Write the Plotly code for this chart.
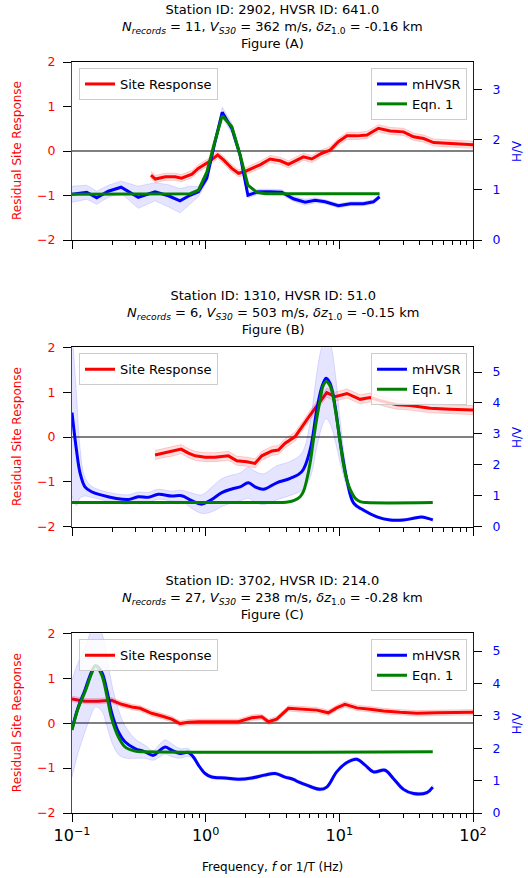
import numpy as np
import plotly.graph_objects as go

# ---------------- Panel A: Station 2902 ----------------
a_sr_f = [0.39, 0.42, 0.50, 0.59, 0.66, 0.79, 0.88, 1.05, 1.23, 1.36, 1.57, 1.76, 1.97, 2.21, 2.55,
          3.03, 3.61, 4.16, 5.38, 6.22, 7.40, 8.53, 9.84, 11.4, 13.5, 16.1, 19.6, 24.0, 30.2, 35.9,
          42.7, 50.7, 67.5, 89.9, 100]
a_sr = [-0.54, -0.63, -0.58, -0.58, -0.61, -0.52, -0.39, -0.25, -0.09, -0.20, -0.39, -0.50, -0.46, -0.39, -0.31,
        -0.18, -0.22, -0.30, -0.13, -0.18, -0.05, 0.02, 0.21, 0.34, 0.34, 0.36, 0.51, 0.45, 0.43, 0.32,
        0.28, 0.19, 0.17, 0.15, 0.14]
a_sr_band = 0.08

a_hv_f = [0.1, 0.129, 0.153, 0.187, 0.233, 0.313, 0.418, 0.526, 0.643, 0.764, 0.883, 1.02, 1.16, 1.33, 1.57,
          1.81, 2.07, 2.48, 3.03, 3.71, 4.53, 5.55, 6.59, 7.83, 9.84, 12.1, 15.1, 18.0, 20.0]
a_hv = [0.91, 0.95, 0.84, 0.97, 1.05, 0.85, 0.96, 0.88, 0.78, 0.89, 0.96, 1.23, 1.89, 2.54, 2.22,
        1.69, 0.89, 0.96, 0.96, 0.95, 0.82, 0.75, 0.79, 0.76, 0.68, 0.72, 0.72, 0.76, 0.86]
a_hv_d = [0.16, 0.14, 0.13, 0.12, 0.12, 0.22, 0.18, 0.22, 0.24, 0.18, 0.10, 0.07, 0.08, 0.10, 0.10,
          0.08, 0.05, 0.05, 0.05, 0.05, 0.05, 0.06, 0.05, 0.04, 0.04, 0.04, 0.04, 0.04, 0.04]

a_eq_f = [0.1, 0.764, 0.883, 1.02, 1.16, 1.33, 1.57, 1.81, 2.07, 2.41, 2.8, 20.0]
a_eq = [0.91, 0.92, 0.99, 1.35, 1.92, 2.47, 2.25, 1.69, 1.09, 0.95, 0.92, 0.92]

# ---------------- Panel B: Station 1310 ----------------
b_sr_f = [0.418, 0.497, 0.557, 0.655, 0.743, 0.834, 0.99, 1.17, 1.48, 1.71, 2.03, 2.34, 2.63, 3.13, 3.50,
          3.93, 4.67, 5.09, 5.38, 6.04, 6.98, 8.05, 9.31, 11.4, 14.3, 17.0, 20.2, 22.7, 26.9, 33.9,
          47.9, 67.5, 100]
b_sr = [-0.40, -0.35, -0.33, -0.27, -0.36, -0.42, -0.45, -0.45, -0.42, -0.53, -0.55, -0.59, -0.42, -0.31, -0.29,
        -0.14, 0.01, 0.16, 0.27, 0.49, 0.75, 0.99, 0.90, 0.97, 0.84, 0.88, 0.81, 0.77, 0.72, 0.70,
        0.64, 0.62, 0.60]
b_sr_band = 0.10

b_hv_f = [0.1, 0.108, 0.115, 0.125, 0.140, 0.167, 0.210, 0.264, 0.313, 0.372, 0.443, 0.557, 0.662, 0.787, 0.935,
          1.11, 1.32, 1.57, 1.81, 2.09, 2.34, 2.70, 3.40, 4.29, 5.24, 6.04, 6.78, 7.40, 7.96, 8.53,
          9.31, 10.1, 11.4, 12.8, 15.1, 19.1, 24.0, 30.2, 35.9, 41.0, 46.0, 50.0]
b_hv = [3.69, 2.48, 1.73, 1.29, 1.13, 1.02, 0.92, 0.88, 0.97, 0.95, 1.05, 0.99, 1.00, 0.84, 0.73,
        0.88, 1.10, 1.22, 1.29, 1.42, 1.29, 1.21, 1.42, 1.56, 1.78, 2.48, 3.77, 4.52, 4.80, 4.63,
        3.88, 2.80, 1.51, 0.76, 0.54, 0.32, 0.22, 0.22, 0.27, 0.31, 0.27, 0.22]
b_hv_d = [2.70, 1.80, 0.80, 0.30, 0.18, 0.15, 0.15, 0.15, 0.15, 0.16, 0.16, 0.16, 0.18, 0.25, 0.30,
          0.40, 0.45, 0.45, 0.45, 0.50, 0.50, 0.50, 0.55, 0.55, 0.60, 0.90, 1.20, 1.30, 1.30, 1.30,
          1.10, 0.70, 0.25, 0.08, 0.05, 0.04, 0.04, 0.04, 0.04, 0.04, 0.04, 0.04]

b_eq_f = [0.1, 3.0, 4.0, 4.6, 5.09, 5.4, 5.70, 6.04, 6.40, 6.78, 7.18, 7.56, 7.96, 8.35, 8.77,
          9.2, 9.68, 10.2, 10.7, 11.4, 12.1, 13.1, 14.3, 16.0, 50.0]
b_eq = [0.78, 0.78, 0.79, 0.85, 0.97, 1.15, 1.51, 2.05, 2.80, 3.50, 4.10, 4.55, 4.69, 4.62, 4.42,
        3.95, 3.34, 2.65, 2.05, 1.50, 1.19, 0.93, 0.81, 0.78, 0.78]

# ---------------- Panel C: Station 3702 ----------------
c_sr_f = [0.1, 0.125, 0.157, 0.198, 0.235, 0.280, 0.323, 0.394, 0.469, 0.557, 0.643, 0.743, 0.883, 1.11, 1.40,
          1.76, 2.21, 2.63, 2.95, 3.40, 4.16, 5.09, 6.78, 8.28, 9.55, 11.0, 13.5, 17.0, 21.4, 28.5,
          38.0, 53.7, 75.7, 100]
c_sr = [0.54, 0.49, 0.49, 0.51, 0.42, 0.36, 0.33, 0.22, 0.16, 0.09, -0.01, 0.02, 0.03, 0.03, 0.03,
        0.03, 0.12, 0.14, 0.03, 0.09, 0.33, 0.31, 0.29, 0.23, 0.34, 0.42, 0.34, 0.31, 0.27, 0.24,
        0.22, 0.23, 0.24, 0.24]
c_sr_band = 0.06

c_hv_f = [0.1, 0.111, 0.125, 0.140, 0.150, 0.167, 0.182, 0.198, 0.222, 0.249, 0.296, 0.352, 0.406, 0.456, 0.497,
          0.557, 0.643, 0.743, 0.809, 0.883, 0.99, 1.11, 1.40, 1.76, 2.21, 2.75, 3.31, 3.93, 4.53, 4.94,
          5.70, 7.18, 8.05, 9.55, 11.4, 13.5, 15.6, 18.0, 22.0, 25.4, 30.2, 35.9, 45.2, 50.0]
c_hv = [2.60, 3.25, 3.80, 4.36, 4.55, 4.35, 3.80, 3.10, 2.51, 2.20, 1.99, 1.89, 1.78, 1.94, 2.04,
        1.94, 1.84, 1.87, 1.73, 1.48, 1.22, 1.11, 1.08, 1.04, 1.08, 1.17, 1.22, 1.11, 1.04, 0.96,
        0.86, 0.73, 0.80, 1.27, 1.56, 1.66, 1.48, 1.27, 1.32, 1.06, 0.73, 0.60, 0.63, 0.80]
c_hv_d = [1.50, 1.40, 1.30, 1.30, 1.27, 1.20, 1.10, 0.90, 0.70, 0.50, 0.30, 0.20, 0.15, 0.20, 0.22,
          0.20, 0.15, 0.12, 0.08, 0.06, 0.05, 0.05, 0.05, 0.05, 0.05, 0.05, 0.05, 0.05, 0.05, 0.05,
          0.05, 0.05, 0.05, 0.05, 0.05, 0.05, 0.05, 0.05, 0.05, 0.05, 0.05, 0.05, 0.05, 0.05]

c_eq_f = [0.1, 0.111, 0.125, 0.140, 0.150, 0.167, 0.182, 0.198, 0.222, 0.249, 0.296, 0.35, 50.0]
c_eq = [2.56, 3.23, 3.74, 4.30, 4.55, 4.26, 3.64, 2.92, 2.35, 2.04, 1.91, 1.89, 1.89]

# ---------------- Text ----------------
titles = [
    ("Station ID: 2902, HVSR ID: 641.0", "11", "362", "-0.16", "Figure (A)"),
    ("Station ID: 1310, HVSR ID: 51.0", "6", "503", "-0.15", "Figure (B)"),
    ("Station ID: 3702, HVSR ID: 214.0", "27", "238", "-0.28", "Figure (C)"),
]
hv_max = [3.54, 5.8, 5.55]
hv_ticks = [[0, 1, 2, 3], [0, 1, 2, 3, 4, 5], [0, 1, 2, 3, 4, 5]]
sr_ticks = [-2, -1, 0, 1, 2]
sr_tick_text = ["−2", "−1", "0", "1", "2"]
x_major = [0.1, 1, 10, 100]
x_major_text = ["10<sup>−1</sup>", "10<sup>0</sup>", "10<sup>1</sup>", "10<sup>2</sup>"]

# ---------------- Layout geometry (pixels) ----------------
W, H = 528, 878
L, R, T, B = 72, 55, 62, 65
PW, PH = W - L - R, H - T - B
panel_px = [(62, 240), (347.3, 526.7), (633.3, 813)]   # top, bottom of each axes box
title_px = [26.5, 312.3, 597.3]                           # centre of the 3-line title


def py(p):
    return (H - B - p) / PH


def px(q):
    return (q - L) / PW


FONT = "DejaVu Sans"
RED, BLUE, GREEN = "#ff0000", "#0000ff", "#008000"

minor_vals = [m * 10.0 ** e for e in (-1, 0, 1) for m in range(2, 10)]

panels = [
    (a_sr_f, a_sr, a_sr_band, a_hv_f, a_hv, a_hv_d, a_eq_f, a_eq, "linear"),
    (b_sr_f, b_sr, b_sr_band, b_hv_f, b_hv, b_hv_d, b_eq_f, b_eq, "spline"),
    (c_sr_f, c_sr, c_sr_band, c_hv_f, c_hv, c_hv_d, c_eq_f, c_eq, "spline"),
]

fig = go.Figure()
layout = dict(
    width=W, height=H,
    margin=dict(l=L, r=R, t=T, b=B),
    paper_bgcolor="white", plot_bgcolor="white",
    font=dict(family=FONT, size=12, color="black"),
    showlegend=True,
    annotations=[],
)

for i, (sf, sv, sb, hf, hv, hd, ef, ev, shape) in enumerate(panels):
    xa = "x" if i == 0 else f"x{i + 1}"
    yl = "y" if i == 0 else f"y{2 * i + 1}"
    yr = f"y{2 * i + 2}"
    legL = "legend" if i == 0 else f"legend{2 * i + 1}"
    legR = f"legend{2 * i + 2}"

    sf_a, sv_a = np.array(sf), np.array(sv)
    hf_a, hv_a, hd_a = np.array(hf), np.array(hv), np.array(hd)

    # site response band + line (left axis)
    fig.add_trace(go.Scatter(
        x=np.concatenate([sf_a, sf_a[::-1]]),
        y=np.concatenate([sv_a + sb, (sv_a - sb)[::-1]]),
        fill="toself", fillcolor="rgba(255,0,0,0.13)",
        line=dict(color="rgba(255,0,0,0.18)", width=1),
        mode="lines", showlegend=False, hoverinfo="skip", xaxis=xa, yaxis=yl))
    fig.add_trace(go.Scatter(
        x=sf, y=sv, mode="lines", name="Site Response",
        line=dict(color=RED, width=3), xaxis=xa, yaxis=yl, legend=legL))

    # mHVSR band + line, Eqn.1 (right axis)
    up = hv_a + hd_a
    lo = np.clip(hv_a - hd_a, 0.0, None)
    fig.add_trace(go.Scatter(
        x=np.concatenate([hf_a, hf_a[::-1]]),
        y=np.concatenate([up, lo[::-1]]),
        fill="toself", fillcolor="rgba(0,0,255,0.10)",
        line=dict(color="rgba(0,0,255,0.12)", width=1, shape=shape),
        mode="lines", showlegend=False, hoverinfo="skip", xaxis=xa, yaxis=yr))
    fig.add_trace(go.Scatter(
        x=hf, y=hv, mode="lines", name="mHVSR",
        line=dict(color=BLUE, width=3, shape=shape), xaxis=xa, yaxis=yr, legend=legR))
    fig.add_trace(go.Scatter(
        x=ef, y=ev, mode="lines", name="Eqn. 1",
        line=dict(color=GREEN, width=3, shape=shape), xaxis=xa, yaxis=yr, legend=legR))

    top, bot = panel_px[i]
    dom = [max(0.0, py(bot)), min(1.0, py(top))]
    last = i == 2

    layout["xaxis" if i == 0 else f"xaxis{i + 1}"] = dict(
        type="log", range=[-1, 2], domain=[0, 1], anchor=yl,
        showline=True, linecolor="black", linewidth=1.2, mirror=True,
        ticks="outside", ticklen=8, tickwidth=1, tickcolor="black",
        tickmode="array", tickvals=x_major, ticktext=x_major_text,
        showticklabels=last, tickfont=dict(size=16, color="black"),
        showgrid=False, zeroline=False,
        minor=dict(tickmode="array", tickvals=minor_vals, ticks="outside",
                   ticklen=4, tickwidth=1, tickcolor="black", showgrid=False),
    )
    layout["yaxis" if i == 0 else f"yaxis{2 * i + 1}"] = dict(
        domain=dom, anchor=xa, range=[-2, 2],
        showline=True, linecolor=RED, linewidth=1.2,
        ticks="outside", ticklen=8, tickwidth=1, tickcolor="black",
        tickmode="array", tickvals=sr_ticks, ticktext=sr_tick_text,
        tickfont=dict(color=RED, size=12.5), ticklabelstandoff=5,
        showgrid=False, zeroline=True, zerolinecolor="#808080", zerolinewidth=1.8,
    )
    layout[f"yaxis{2 * i + 2}"] = dict(
        overlaying=yl, side="right", anchor=xa, range=[0, hv_max[i]],
        showline=True, linecolor=BLUE, linewidth=1.2,
        ticks="outside", ticklen=8, tickwidth=1, tickcolor="black",
        tickmode="array", tickvals=hv_ticks[i],
        tickfont=dict(color=BLUE, size=12.5), ticklabelstandoff=8,
        showgrid=False, zeroline=False,
    )

    legend_top = py(top + 6)
    layout[legL] = dict(
        x=px(79), y=legend_top, xanchor="left", yanchor="top",
        bgcolor="rgba(255,255,255,0.8)", bordercolor="#cccccc", borderwidth=1,
        font=dict(family=FONT, size=13, color="black"), itemwidth=30, tracegroupgap=0)
    layout[legR] = dict(
        x=px(467), y=legend_top, xanchor="right", yanchor="top",
        bgcolor="rgba(255,255,255,0.8)", bordercolor="#cccccc", borderwidth=1,
        font=dict(family=FONT, size=13, color="black"), itemwidth=30, tracegroupgap=0)

    st, n, vs, dz, figlab = titles[i]
    title_text = (f"{st}<br><i>N<sub>records</sub></i> = {n}, <i>V<sub>S30</sub></i> = {vs} m/s, "
                  f"<i>δz</i><sub>1.0</sub> = {dz} km<br>{figlab}")
    layout["annotations"].append(dict(
        text=title_text, x=0.5, y=py(title_px[i]), xref="paper", yref="paper",
        xanchor="center", yanchor="middle", showarrow=False,
        font=dict(family=FONT, size=13, color="black")))
    mid = (top + bot) / 2
    layout["annotations"].append(dict(
        text="Residual Site Response", x=px(17), y=py(mid), xref="paper", yref="paper",
        xanchor="center", yanchor="middle", textangle=-90, showarrow=False,
        font=dict(family=FONT, size=12, color=RED)))
    layout["annotations"].append(dict(
        text="H/V", x=px(517), y=py(mid), xref="paper", yref="paper",
        xanchor="center", yanchor="middle", textangle=-90, showarrow=False,
        font=dict(family=FONT, size=12, color=BLUE)))

layout["annotations"].append(dict(
    text="Frequency, <i>f</i> or 1/T (Hz)", x=0.5, y=py(866.5), xref="paper", yref="paper",
    xanchor="center", yanchor="middle", showarrow=False,
    font=dict(family=FONT, size=12, color="black")))

fig.update_layout(**layout)
fig.write_html("out.html", config={"displayModeBar": False},
               post_script="document.body.style.margin='0';document.body.style.padding='0';")
